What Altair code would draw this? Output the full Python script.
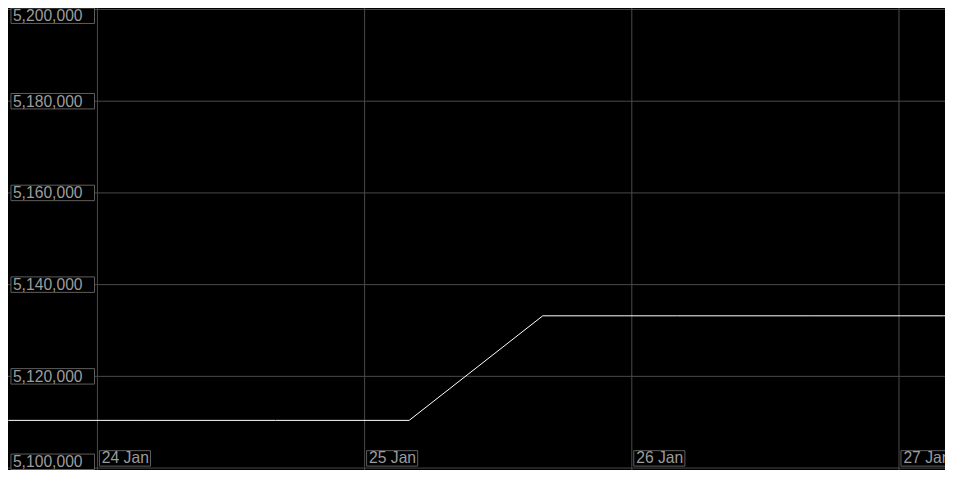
import altair as alt
import pandas as pd

# ---- data ----
times = ["2024-01-23T16:00:00Z", "2024-01-24T04:00:00Z", "2024-01-24T16:00:00Z",
         "2024-01-25T04:00:00Z", "2024-01-25T16:00:00Z", "2024-01-26T04:00:00Z",
         "2024-01-26T16:00:00Z", "2024-01-27T04:00:00Z", "2024-01-27T16:00:00Z"]
values = [5110400, 5110400, 5110400, 5110400, 5133200, 5133200, 5133200, 5133200, 5133200]

x_ticks = ["2024-01-24T00:00:00Z", "2024-01-25T00:00:00Z", "2024-01-26T00:00:00Z", "2024-01-27T00:00:00Z"]
x_labels = ["24 Jan", "25 Jan", "26 Jan", "27 Jan"]
y_ticks = [5100000, 5120000, 5140000, 5160000, 5180000, 5200000]
y_labels = ["5,100,000", "5,120,000", "5,140,000", "5,160,000", "5,180,000", "5,200,000"]

Y_MIN, Y_MAX = 5099580, 5200320

# ---- layout (reference measured in a 953x478 frame) ----
W, H = 937, 462
sx, sy = W / 953, H / 478
GRID = "#4a4a4a"
BOX = "#5e5e5e"
TXT = "#9c9c9c"
FONT = "Liberation Sans"
FS = 16 * min(sx, sy) + 0.2

per_px = (Y_MAX - Y_MIN) / H
top_lim = Y_MAX - 8 * sy * per_px
bot_lim = Y_MIN + 8.5 * sy * per_px

line_df = pd.DataFrame({"t": times, "v": values})
xt_df = pd.DataFrame({"t": x_ticks, "label": x_labels})
yt_df = pd.DataFrame({"v": y_ticks, "label": y_labels})
yt_df["c"] = yt_df["v"].clip(lower=bot_lim, upper=top_lim)

x_scale = alt.Scale(
    type="utc",
    domain=[alt.DateTime(year=2024, month=1, date=23, hours=15, minutes=58, utc=True),
            alt.DateTime(year=2024, month=1, date=27, hours=4, minutes=8, utc=True)],
)
y_scale = alt.Scale(domain=[Y_MIN, Y_MAX], zero=False, nice=False)

X = lambda f: alt.X(f, type="temporal", scale=x_scale, axis=None)
Yq = lambda f: alt.Y(f, type="quantitative", scale=y_scale, axis=None)

hgrid = alt.Chart(yt_df).mark_rule(color=GRID, strokeWidth=1).encode(
    y=Yq("v"), x=alt.value(0), x2=alt.value(W))
vgrid = alt.Chart(xt_df).mark_rule(color=GRID, strokeWidth=1).encode(
    x=X("t"), y=alt.value(0), y2=alt.value(H))

line = alt.Chart(line_df).mark_line(color="#ffffff", strokeWidth=1, clip=True).encode(
    x=X("t"), y=Yq("v"))

ybox = alt.Chart(yt_df).mark_rect(
    fill="#000000", stroke=BOX, strokeWidth=1, yOffset=-8 * sy, y2Offset=8 * sy
).encode(y=Yq("c"), y2=alt.Y2("c"), x=alt.value(3 * sx), x2=alt.value(88 * sx))
ytext = alt.Chart(yt_df).mark_text(
    align="left", baseline="alphabetic", font=FONT, fontSize=FS, color=TXT,
    dx=0, dy=5.5 * sy
).encode(y=Yq("c"), x=alt.value(5 * sx), text="label")

xbox = alt.Chart(xt_df).mark_rect(
    fill="#000000", stroke=BOX, strokeWidth=1, xOffset=2 * sx, x2Offset=54 * sx, clip=True
).encode(x=X("t"), x2=alt.X2("t"), y=alt.value(458 * sy), y2=alt.value(474 * sy))
xtext = alt.Chart(xt_df).mark_text(
    align="left", baseline="alphabetic", font=FONT, fontSize=FS, color=TXT,
    dx=4.5 * sx, clip=True
).encode(x=X("t"), y=alt.value(471 * sy), text="label")

chart = alt.layer(hgrid, vgrid, line, ybox, ytext, xbox, xtext).properties(
    width=W, height=H, background="#000000", padding=0,
    autosize=alt.AutoSizeParams(type="none"),
).configure_view(stroke=None, fill="#000000")

chart.save("out.html", embed_options={"renderer": "svg", "actions": False})
